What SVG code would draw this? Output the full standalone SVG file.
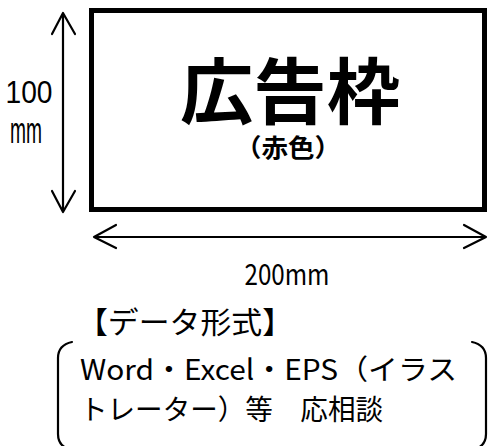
<svg xmlns="http://www.w3.org/2000/svg" width="488" height="446" viewBox="0 0 488 446">
<style>
.ln{fill:none;stroke:#000;stroke-width:2.2;stroke-linecap:round;stroke-linejoin:round}
.t{font-family:"Noto Sans CJK JP","Liberation Sans",sans-serif;fill:#000}
.l{font-family:"Liberation Sans",sans-serif;fill:#000}
</style>
<rect width="488" height="446" fill="#fff"/>
<g id="frame">
<rect x="91.5" y="10.5" width="393" height="199" fill="#fff" stroke="#000" stroke-width="5"/>
<text class="t" x="290" y="118" font-size="72" font-weight="bold" text-anchor="middle" textLength="220" lengthAdjust="spacingAndGlyphs">広告枠</text>
<text class="t" x="288" y="157" font-size="25" font-weight="bold" text-anchor="middle" textLength="106" lengthAdjust="spacingAndGlyphs">（赤色）</text>
</g>
<g id="connectors">
<path class="ln" d="M63 13 V211 M52 34 L63 13 L75 34 M52 191 L63 212 L75 191"/>
<path class="ln" d="M94 237 H486 M116 225 L94 237 L116 248 M464 225 L486 237 L464 248"/>
</g>
<g id="height-label">
<text class="l" x="29" y="103" font-size="31" text-anchor="middle" textLength="47" lengthAdjust="spacingAndGlyphs">100</text>
<text class="l" x="26" y="143" font-size="36" text-anchor="middle" textLength="32" lengthAdjust="spacingAndGlyphs">mm</text>
</g>
<g id="width-label">
<text class="t" x="287" y="285" font-size="29" text-anchor="middle" textLength="85" lengthAdjust="spacingAndGlyphs">200mm</text>
</g>
<g id="data-format">
<text class="t" x="77" y="333" font-size="30" textLength="216" lengthAdjust="spacingAndGlyphs">【データ形式】</text>
<path class="ln" d="M72 342 Q58 345 58 358 V434 Q58 447 72 450" stroke-width="2.5"/>
<path class="ln" d="M472 342 Q486 345 486 358 V434 Q486 447 472 450" stroke-width="2.5"/>
<text class="t" x="80" y="380" font-size="28" textLength="377" lengthAdjust="spacingAndGlyphs">Word・Excel・EPS（イラス</text>
<text class="t" x="80" y="420" font-size="28" textLength="303" lengthAdjust="spacingAndGlyphs">トレーター）等　応相談</text>
</g>
</svg>
